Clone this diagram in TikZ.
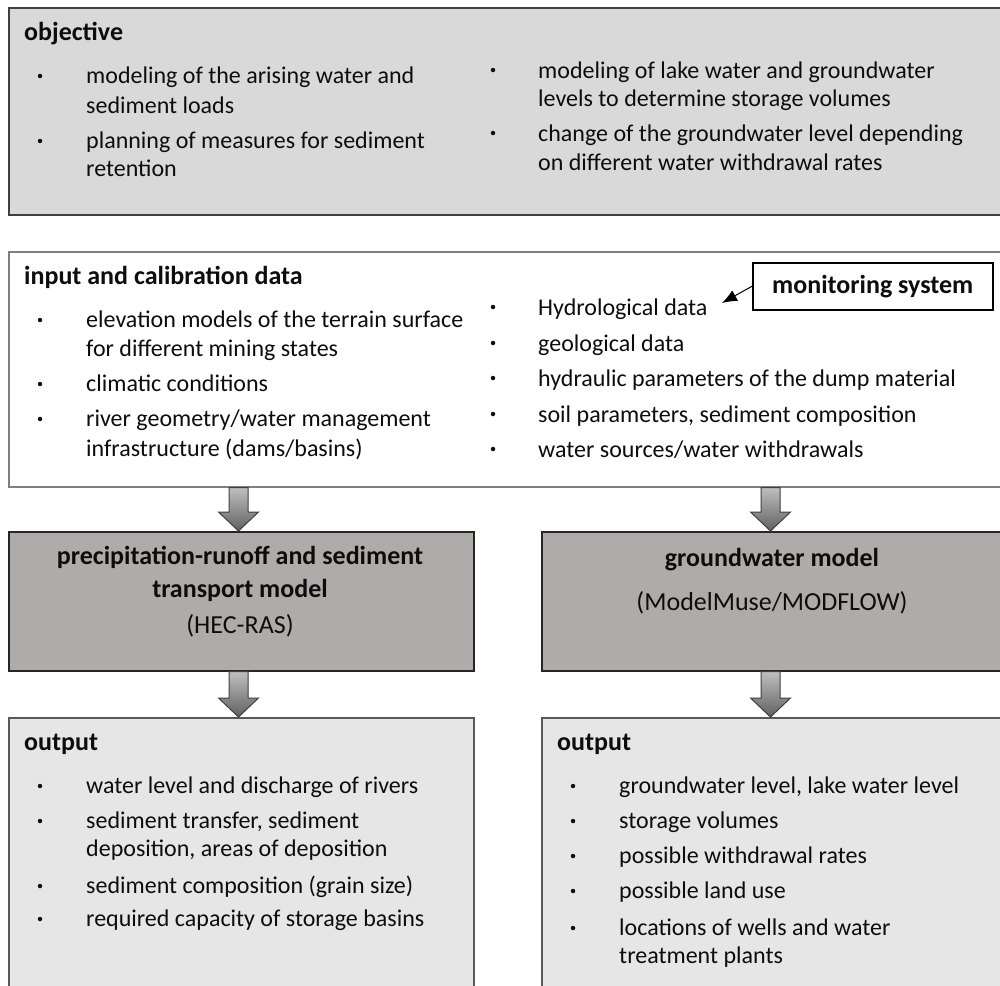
\documentclass[tikz,border=0pt]{standalone}
\usepackage{fontspec}
\setmainfont{Carlito}
\usetikzlibrary{calc,arrows.meta}
\definecolor{objfill}{HTML}{D9D9D9}
\definecolor{outfill}{HTML}{E7E6E6}
\definecolor{modfill}{HTML}{AFABAB}
\definecolor{bordgray}{HTML}{595959}
\definecolor{inpgray}{HTML}{7F7F7F}
\definecolor{txtcol}{HTML}{0D0D0D}
\tikzset{
  box/.style={draw=bordgray, line width=1.5pt, inner sep=0pt, anchor=north west, rectangle},
  txt/.style={anchor=base west, inner sep=0pt, text=txtcol, font=\fontsize{24}{30}\selectfont},
  ttl/.style={anchor=base west, inner sep=0pt, text=txtcol, font=\fontsize{26}{32}\selectfont\bfseries},
  ctr/.style={anchor=base, inner sep=0pt, text=txtcol, font=\fontsize{26}{32}\selectfont},
  ctrb/.style={anchor=base, inner sep=0pt, text=txtcol, font=\fontsize{26}{32}\selectfont\bfseries},
  bul/.style={anchor=center, circle, fill=txtcol, inner sep=0pt, minimum size=4.5pt},
  blockarrow/.style={draw=black!75, line width=1pt, top color=black!25, bottom color=black!62, line join=miter},
}
\newcommand\li[4]{\node[txt] (#1) at (#2,#3) {#4};}
\newcommand\bu[3]{\node[bul] (#1) at (#2,#3-7) {};}
\newcommand\barrow[2]{%
  \draw[blockarrow] ($(#1)+(-9.5,0)$) -- ($(#2)+(-9.5,-19)$) -- ($(#2)+(-20,-19)$) -- (#2)
    -- ($(#2)+(20,-19)$) -- ($(#2)+(9.5,-19)$) -- ($(#1)+(9.5,0)$) -- cycle;}
\begin{document}
\begin{tikzpicture}[x=1pt,y=-1pt]
\useasboundingbox (0,0) rectangle (1000,985);
\clip (0,0) rectangle (1000,985);
\fill[white] (0,0) rectangle (1000,985);

% objective
\node[box, draw=black!75, fill=objfill, minimum width=1000pt, minimum height=207pt] (obj) at (8,7) {};
\node[ttl] (objT) at (24,40) {objective};
\bu{ob1}{40}{83}\li{o1}{86}{83}{modeling of the arising water and}
\li{o2}{86}{113}{sediment loads}
\bu{ob3}{40}{148}\li{o3}{86}{148}{planning of measures for sediment}
\li{o4}{86}{176}{retention}
\bu{ob5}{493}{77}\li{o5}{538}{78}{modeling of lake water and groundwater}
\li{o6}{538}{106}{levels to determine storage volumes}
\bu{ob7}{493}{140}\li{o7}{538}{141}{change of the groundwater level depending}
\li{o8}{538}{170}{on different water withdrawal rates}

% input
\node[box, draw=inpgray, fill=white, minimum width=1000pt, minimum height=235pt] (inp) at (8,251) {};
\node[ttl] (inpT) at (24,284) {input and calibration data};
\bu{ib1}{40}{327}\li{i1}{86}{327}{elevation models of the terrain surface}
\li{i2}{86}{356}{for different mining states}
\bu{ib3}{40}{391}\li{i3}{86}{391}{climatic conditions}
\bu{ib4}{40}{426}\li{i4}{86}{426}{river geometry/water management}
\li{i5}{86}{456}{infrastructure (dams/basins)}
\bu{ib6}{493}{314}\li{i6}{538}{315}{Hydrological data}
\bu{ib7}{493}{350}\li{i7}{538}{351}{geological data}
\bu{ib8}{493}{385}\li{i8}{538}{386}{hydraulic parameters of the dump material}
\bu{ib9}{493}{421}\li{i9}{538}{422}{soil parameters, sediment composition}
\bu{ib10}{493}{456}\li{i10}{538}{457}{water sources/water withdrawals}

% monitoring system
\node[draw=black, line width=1.5pt, fill=white, anchor=north west, inner sep=0pt,
      minimum width=240pt, minimum height=47pt, text=txtcol,
      font=\fontsize{26}{32}\selectfont\bfseries] (mon) at (752,262) {monitoring system};
\coordinate (hyd) at (722,303);
\draw[-{Latex[length=15pt,width=12pt]}, line width=1pt, black] (mon.west) -- (hyd);

% model boxes
\node[box, draw=black!85, fill=modfill, minimum width=465pt, minimum height=139pt] (mL) at (8,531) {};
\node[ctrb] (mL1) at (240,564) {precipitation-runoff and sediment};
\node[ctrb] (mL2) at (240,597) {transport model};
\node[ctr] (mL3) at (240,633) {(HEC-RAS)};
\node[box, draw=black!85, fill=modfill, minimum width=470pt, minimum height=139pt] (mR) at (541,531) {};
\node[ctrb] (mR1) at (772,566) {groundwater model};
\node[ctr] (mR2) at (772,610) {(ModelMuse/MODFLOW)};

% output boxes
\node[box, fill=outfill, minimum width=465pt, minimum height=300pt] (outL) at (8,717) {};
\node[ttl] (outLT) at (24,750) {output};
\bu{lb1}{40}{793}\li{l1}{86}{793}{water level and discharge of rivers}
\bu{lb2}{40}{828}\li{l2}{86}{828}{sediment transfer, sediment}
\li{l3}{86}{856}{deposition, areas of deposition}
\bu{lb4}{40}{893}\li{l4}{86}{893}{sediment composition (grain size)}
\bu{lb5}{40}{926}\li{l5}{86}{926}{required capacity of storage basins}

\node[box, fill=outfill, minimum width=470pt, minimum height=300pt] (outR) at (541,717) {};
\node[ttl] (outRT) at (557,750) {output};
\bu{rb1}{573}{793}\li{r1}{619}{793}{groundwater level, lake water level}
\bu{rb2}{573}{828}\li{r2}{619}{828}{storage volumes}
\bu{rb3}{573}{863}\li{r3}{619}{863}{possible withdrawal rates}
\bu{rb4}{573}{898}\li{r4}{619}{898}{possible land use}
\bu{rb5}{573}{935}\li{r5}{619}{935}{locations of wells and water}
\li{r6}{619}{963}{treatment plants}

% block arrows
\coordinate (axL) at (238.5,0);
\coordinate (axR) at (770.5,0);
\coordinate (a1t) at (inp.south -| axL);
\coordinate (a1p) at (mL.north -| axL);
\coordinate (a2t) at (inp.south -| axR);
\coordinate (a2p) at (mR.north -| axR);
\coordinate (a3t) at (mL.south -| axL);
\coordinate (a3p) at (outL.north -| axL);
\coordinate (a4t) at (mR.south -| axR);
\coordinate (a4p) at (outR.north -| axR);
\barrow{a1t}{a1p}
\barrow{a2t}{a2p}
\barrow{a3t}{a3p}
\barrow{a4t}{a4p}
\end{tikzpicture}
\end{document}
